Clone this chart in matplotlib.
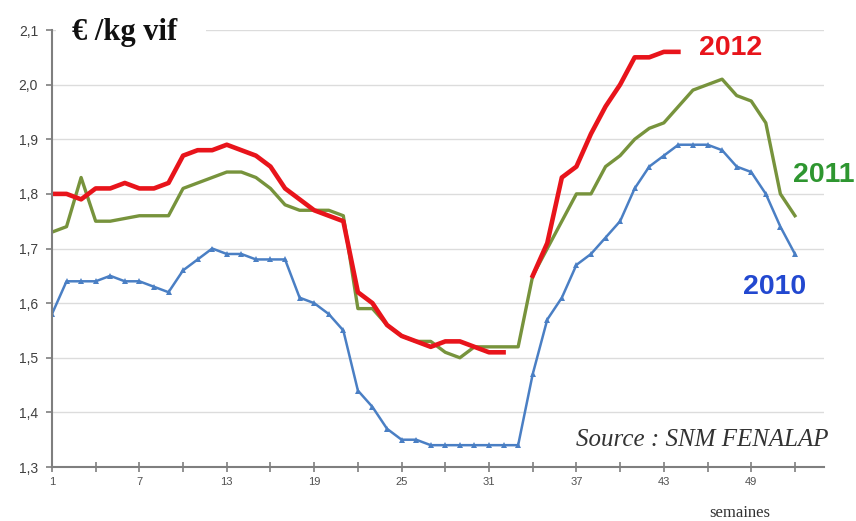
import numpy as np
import matplotlib.pyplot as plt
from matplotlib.ticker import FuncFormatter

weeks = list(range(1, 53))

prix_2010 = [1.58, 1.64, 1.64, 1.64, 1.65, 1.64, 1.64, 1.63, 1.62, 1.66,
             1.68, 1.70, 1.69, 1.69, 1.68, 1.68, 1.68, 1.61, 1.60, 1.58,
             1.55, 1.44, 1.41, 1.37, 1.35, 1.35, 1.34, 1.34, 1.34, 1.34,
             1.34, 1.34, 1.34, 1.47, 1.57, 1.61, 1.67, 1.69, 1.72, 1.75,
             1.81, 1.85, 1.87, 1.89, 1.89, 1.89, 1.88, 1.85, 1.84, 1.80,
             1.74, 1.69]

prix_2011 = [1.73, 1.74, 1.83, 1.75, 1.75, 1.755, 1.76, 1.76, 1.76, 1.81,
             1.82, 1.83, 1.84, 1.84, 1.83, 1.81, 1.78, 1.77, 1.77, 1.77,
             1.76, 1.59, 1.59, 1.56, 1.54, 1.53, 1.53, 1.51, 1.50, 1.52,
             1.52, 1.52, 1.52, 1.65, 1.70, 1.75, 1.80, 1.80, 1.85, 1.87,
             1.90, 1.92, 1.93, 1.96, 1.99, 2.00, 2.01, 1.98, 1.97, 1.93,
             1.80, 1.76]

# 2012: no value for week 33, series stops at week 44
prix_2012 = [1.80, 1.80, 1.79, 1.81, 1.81, 1.82, 1.81, 1.81, 1.82, 1.87,
             1.88, 1.88, 1.89, 1.88, 1.87, 1.85, 1.81, 1.79, 1.77, 1.76,
             1.75, 1.62, 1.60, 1.56, 1.54, 1.53, 1.52, 1.53, 1.53, 1.52,
             1.51, 1.51, None, 1.65, 1.71, 1.83, 1.85, 1.91, 1.96, 2.00,
             2.05, 2.05, 2.06, 2.06]

y_ticks = [1.3, 1.4, 1.5, 1.6, 1.7, 1.8, 1.9, 2.0, 2.1]

c2010 = "#4a7fc4"
c2011 = "#77933c"
c2012 = "#e8141b"

fig = plt.figure(figsize=(8.56, 5.21), dpi=100)
ax = fig.add_axes([0.0607, 0.1036, 0.9020, 0.8388])

y12 = np.array([np.nan if v is None else v for v in prix_2012], dtype=float)

ax.plot(weeks, prix_2010, color=c2010, lw=1.8, marker="^", ms=4.5,
        markeredgewidth=0, zorder=3)
ax.plot(weeks, prix_2011, color=c2011, lw=2.4, zorder=4)
ax.plot(weeks[:len(y12)], y12, color=c2012, lw=3.3, zorder=5)

ax.set_xlim(1, 54)
ax.set_ylim(1.3, 2.1)
ax.set_yticks(y_ticks)
ax.yaxis.set_major_formatter(FuncFormatter(lambda v, p: f"{v:.1f}".replace(".", ",")))
ax.set_xticks(list(range(1, 53, 6)))
ax.xaxis.set_minor_locator(plt.FixedLocator(list(range(1, 54, 3))))

ax.grid(axis="y", color="#dcdcdc", lw=1.0, zorder=0)
for s in ["top", "right"]:
    ax.spines[s].set_visible(False)
for s in ["left", "bottom"]:
    ax.spines[s].set_color("#7f7f7f")
    ax.spines[s].set_linewidth(1.5)
    ax.spines[s].set_zorder(6)

ax.tick_params(axis="y", direction="out", length=4, width=1.2, color="#7f7f7f",
               labelsize=10, labelcolor="#404040", pad=6)
ax.tick_params(axis="x", which="both", direction="inout", length=7, width=1.2,
               color="#7f7f7f", labelsize=8, labelcolor="#505050", pad=4)
for lab in ax.get_yticklabels() + ax.get_xticklabels():
    lab.set_family("Liberation Sans")

# unit title sits on a white patch that hides the top gridline behind it
fig.patches.append(plt.Rectangle((0.066, 0.915), 0.175, 0.065, transform=fig.transFigure,
                                 facecolor="white", edgecolor="none", zorder=2))
fig.text(0.084, 0.938, "€ /kg vif", family="Liberation Serif", weight="bold",
         fontsize=22, color="#111111", ha="left", va="center", zorder=3)

fig.text(0.853, 0.908, "2012", color=c2012, family="Liberation Sans",
         weight="bold", fontsize=20.5, ha="center", va="center")
fig.text(0.962, 0.664, "2011", color="#2e9630", family="Liberation Sans",
         weight="bold", fontsize=20.5, ha="center", va="center")
fig.text(0.905, 0.449, "2010", color="#2248d0", family="Liberation Sans",
         weight="bold", fontsize=20.5, ha="center", va="center")

fig.text(0.968, 0.155, "Source : SNM FENALAP", family="Liberation Serif",
         style="italic", fontsize=18, color="#333333", ha="right", va="center")
fig.text(0.864, 0.015, "semaines", family="Liberation Serif", fontsize=12,
         color="#333333", ha="center", va="center")

fig.savefig("out.png", dpi=100)
